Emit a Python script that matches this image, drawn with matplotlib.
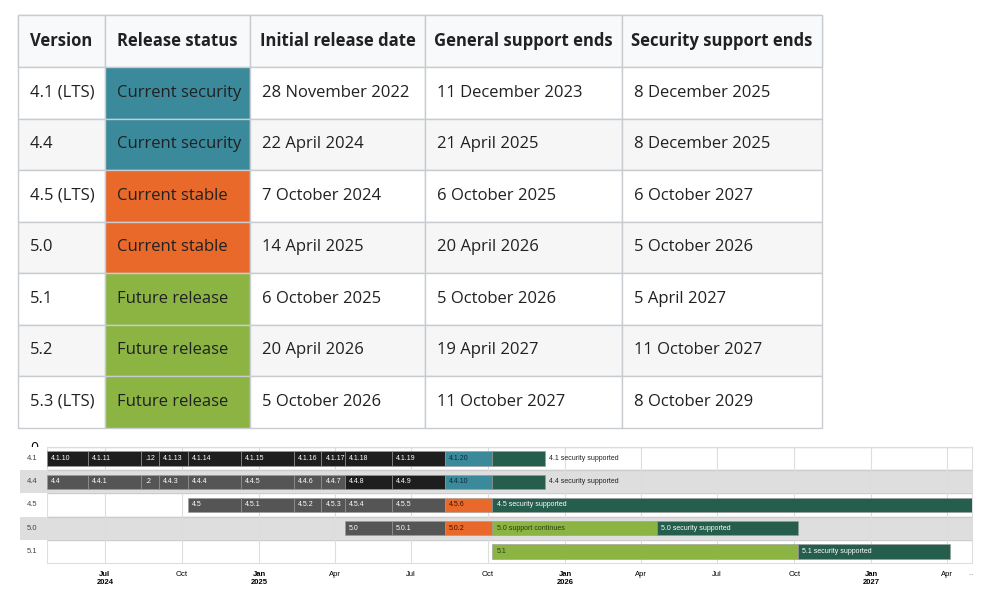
import matplotlib.pyplot as plt
import matplotlib.dates as mdates
from matplotlib.patches import Rectangle
import pandas as pd

# ---- table data
headers = ['Version', 'Release status', 'Initial release date', 'General support ends', 'Security support ends']
versions = ['4.1 (LTS)', '4.4', '4.5 (LTS)', '5.0', '5.1', '5.2', '5.3 (LTS)']
statuses = ['Current security', 'Current security', 'Current stable', 'Current stable',
            'Future release', 'Future release', 'Future release']
initial = ['28 November 2022', '22 April 2024', '7 October 2024', '14 April 2025',
           '6 October 2025', '20 April 2026', '5 October 2026']
general_end = ['11 December 2023', '21 April 2025', '6 October 2025', '20 April 2026',
               '5 October 2026', '19 April 2027', '11 October 2027']
security_end = ['8 December 2025', '8 December 2025', '6 October 2027', '5 October 2026',
                '5 April 2027', '11 October 2027', '8 October 2029']

status_colors = {'Current security': '#3a8a9c', 'Current stable': '#e8692a', 'Future release': '#8bb443'}

# ---- timeline data: (row, label, start, end, kind)
rows = ['4.1', '4.4', '4.5', '5.0', '5.1']
segments = [
    ('4.1', '4.1.10', '2024-04-23', '2024-06-11', 'old'),
    ('4.1', '4.1.11', '2024-06-11', '2024-08-13', 'old'),
    ('4.1', '.12', '2024-08-13', '2024-09-03', 'old'),
    ('4.1', '4.1.13', '2024-09-03', '2024-10-08', 'old'),
    ('4.1', '4.1.14', '2024-10-08', '2024-12-10', 'old'),
    ('4.1', '4.1.15', '2024-12-10', '2025-02-11', 'old'),
    ('4.1', '4.1.16', '2025-02-11', '2025-03-16', 'old'),
    ('4.1', '4.1.17', '2025-03-16', '2025-04-13', 'old'),
    ('4.1', '4.1.18', '2025-04-13', '2025-06-08', 'old'),
    ('4.1', '4.1.19', '2025-06-08', '2025-08-10', 'old'),
    ('4.1', '4.1.20', '2025-08-10', '2025-10-06', 'cur'),
    ('4.1', '', '2025-10-06', '2025-12-08', 'sec'),
    ('4.4', '4.4', '2024-04-23', '2024-06-11', 'prev'),
    ('4.4', '4.4.1', '2024-06-11', '2024-08-13', 'prev'),
    ('4.4', '.2', '2024-08-13', '2024-09-03', 'prev'),
    ('4.4', '4.4.3', '2024-09-03', '2024-10-08', 'prev'),
    ('4.4', '4.4.4', '2024-10-08', '2024-12-10', 'prev'),
    ('4.4', '4.4.5', '2024-12-10', '2025-02-11', 'prev'),
    ('4.4', '4.4.6', '2025-02-11', '2025-03-16', 'prev'),
    ('4.4', '4.4.7', '2025-03-16', '2025-04-13', 'prev'),
    ('4.4', '4.4.8', '2025-04-13', '2025-06-08', 'old'),
    ('4.4', '4.4.9', '2025-06-08', '2025-08-10', 'old'),
    ('4.4', '4.4.10', '2025-08-10', '2025-10-06', 'cur'),
    ('4.4', '', '2025-10-06', '2025-12-08', 'sec'),
    ('4.5', '4.5', '2024-10-08', '2024-12-10', 'prev'),
    ('4.5', '4.5.1', '2024-12-10', '2025-02-11', 'prev'),
    ('4.5', '4.5.2', '2025-02-11', '2025-03-16', 'prev'),
    ('4.5', '4.5.3', '2025-03-16', '2025-04-13', 'prev'),
    ('4.5', '4.5.4', '2025-04-13', '2025-06-08', 'prev'),
    ('4.5', '4.5.5', '2025-06-08', '2025-08-10', 'prev'),
    ('4.5', '4.5.6', '2025-08-10', '2025-10-06', 'stable'),
    ('4.5', '4.5 security supported', '2025-10-06', '2027-05-01', 'sec'),
    ('5.0', '5.0', '2025-04-13', '2025-06-08', 'prev'),
    ('5.0', '5.0.1', '2025-06-08', '2025-08-10', 'prev'),
    ('5.0', '5.0.2', '2025-08-10', '2025-10-06', 'stable'),
    ('5.0', '5.0 support continues', '2025-10-06', '2026-04-20', 'future'),
    ('5.0', '5.0 security supported', '2026-04-20', '2026-10-05', 'sec'),
    ('5.1', '5.1', '2025-10-06', '2026-10-05', 'future'),
    ('5.1', '5.1 security supported', '2026-10-05', '2027-04-05', 'sec'),
]
outside_labels = [('4.1', '4.1 security supported', '2025-12-08'),
                  ('4.4', '4.4 security supported', '2025-12-08')]
ticks = ['2024-07-01', '2024-10-01', '2025-01-01', '2025-04-01', '2025-07-01', '2025-10-01',
         '2026-01-01', '2026-04-01', '2026-07-01', '2026-10-01', '2027-01-01', '2027-04-01']
tick_labels = ['Jul\n2024', 'Oct', 'Jan\n2025', 'Apr', 'Jul', 'Oct',
               'Jan\n2026', 'Apr', 'Jul', 'Oct', 'Jan\n2027', 'Apr']

kind_colors = {'old': '#1e1e1e', 'prev': '#555555', 'cur': '#3a8a9c', 'stable': '#e8692a',
               'future': '#8bb443', 'sec': '#255e4c'}
kind_text = {'old': 'white', 'prev': 'white', 'cur': '#0a2a33', 'stable': '#3a1200',
             'future': '#2a3a10', 'sec': 'white'}

fig = plt.figure(figsize=(9.87, 6.07), dpi=100)
plt.rcParams['font.family'] = 'Open Sans'

# ---- table (pixel coordinates)
ax = fig.add_axes([0, 0, 1, 1])
ax.set_xlim(0, 987)
ax.set_ylim(607, 0)
ax.axis('off')
col_x = [18, 105, 250, 425, 622, 822]
top, head_h, row_h = 15, 52, 51.5
border = '#c8ccd1'
ax.add_patch(Rectangle((col_x[0], top), col_x[-1] - col_x[0], head_h, fc='#f8f9fa', ec=border, lw=1))
for c, h in enumerate(headers):
    ax.add_patch(Rectangle((col_x[c], top), col_x[c + 1] - col_x[c], head_h, fc='#f8f9fa', ec=border, lw=1))
    ax.text((col_x[c] + col_x[c + 1]) / 2, top + head_h / 2, h, ha='center', va='center',
            fontsize=12, fontweight='bold', color='#202122')
for r in range(len(versions)):
    y = top + head_h + r * row_h
    bg = '#ffffff' if r % 2 == 0 else '#f6f6f6'
    cells = [versions[r], statuses[r], initial[r], general_end[r], security_end[r]]
    for c, txt in enumerate(cells):
        fc = status_colors[statuses[r]] if c == 1 else bg
        ax.add_patch(Rectangle((col_x[c], y), col_x[c + 1] - col_x[c], row_h, fc=fc, ec=border, lw=1))
        ax.text(col_x[c] + 12, y + row_h / 2, txt, ha='left', va='center', fontsize=12,
                color='#202122')

# ---- timeline
tl = fig.add_axes([47 / 987, 1 - 563 / 607, (972 - 47) / 987, (563 - 447) / 607])
x0, x1 = pd.Timestamp('2024-04-23'), pd.Timestamp('2027-05-01')
tl.set_xlim(x0, x1)
tl.set_ylim(len(rows), 0)
for i, rname in enumerate(rows):
    band = '#ffffff' if i % 2 == 0 else '#dedede'
    tl.axhspan(i, i + 1, color=band, zorder=0)
    fig.add_artist(Rectangle((20 / 987, 1 - (447 + (i + 1) * 116 / 5) / 607), 27 / 987, 116 / 5 / 607,
                             fc=band, ec='none', transform=fig.transFigure))
    fig.text(27 / 987, 1 - (447 + (i + 0.5) * 116 / 5) / 607, rname, fontsize=5.5,
             va='center', color='#444444', family='Liberation Sans')
    tl.axhline(i, color='#cccccc', lw=1, zorder=1)
tl.set_xticks([pd.Timestamp(t) for t in ticks])
tl.set_xticklabels(tick_labels, fontsize=5.5, family='Liberation Sans')
for lbl in tl.get_xticklabels():
    if '\n' in lbl.get_text():
        lbl.set_fontweight('bold')
tl.grid(axis='x', color='#dddddd', lw=0.8, zorder=1)
tl.tick_params(length=0, pad=6)
for s in tl.spines.values():
    s.set_color('#dddddd')
for rname, label, s, e, kind in segments:
    i = rows.index(rname)
    s, e = pd.Timestamp(s), pd.Timestamp(e)
    tl.barh(i + 0.5, e - s, left=s, height=0.62, color=kind_colors[kind],
            edgecolor='#999999', lw=0.4, zorder=3)
    if label:
        tl.text(s + pd.Timedelta(days=5), i + 0.5, label, fontsize=5, va='center',
                color=kind_text[kind], zorder=4, family='Liberation Sans', clip_on=True)
for rname, label, s in outside_labels:
    tl.text(pd.Timestamp(s) + pd.Timedelta(days=5), rows.index(rname) + 0.5, label, fontsize=5,
            va='center', color='#222222', family='Liberation Sans', zorder=4)
fig.text(968 / 987, 1 - 575 / 607, '...', fontsize=5, color='#888888')

fig.savefig('out.png', dpi=100)
